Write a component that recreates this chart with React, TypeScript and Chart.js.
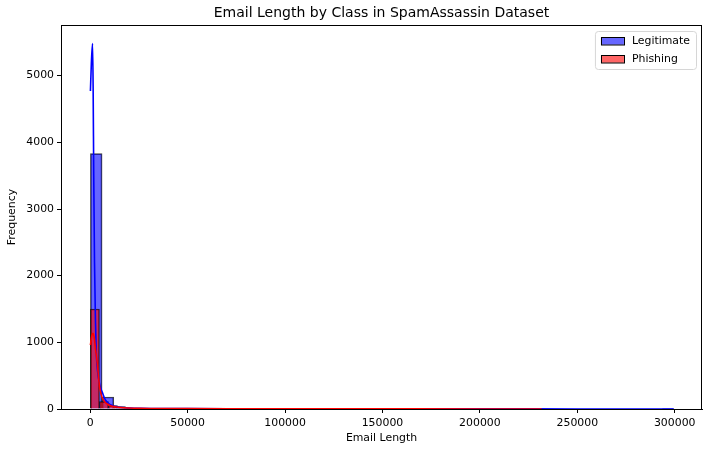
import React, { useEffect, useRef } from "react";
import { Chart, registerables } from "chart.js";

Chart.register(...registerables);

// ---- data ----
const legitMin = 100;
const legitBinWidth = 5990;
const legitCounts = [
  3830, 180, 35, 12, 6, 4, 2, 2, 1, 1, 1, 1, 0, 1, 1, 0, 0, 0, 0, 0,
  0, 0, 0, 0, 0, 0, 0, 0, 0, 0, 0, 0, 0, 0, 0, 0, 0, 0, 0, 0,
  0, 0, 0, 0, 0, 0, 0, 0, 0, 1,
];
const phishMin = 100;
const phishBinWidth = 4630;
const phishCounts = [
  1500, 110, 50, 20, 10, 6, 4, 3, 2, 2, 1, 1, 1, 0, 0, 0, 1, 1, 0, 1,
  0, 0, 0, 0, 0, 0, 0, 0, 0, 0, 0, 0, 0, 0, 0, 0, 0, 0, 0, 0,
  0, 0, 0, 0, 0, 0, 0, 0, 0, 1,
];
const legitKdeX = [
  100, 600, 1200, 1500, 1800, 2200, 2700, 3100, 3800, 4500, 5200, 6200, 7700, 9500, 11500,
  13700, 17000, 20500, 26000, 35000, 50000, 70000, 90000, 110000, 150000, 200000, 250000, 299500,
];
const legitKdeY = [
  4770, 5200, 5480, 4800, 3500, 2200, 1300, 850, 560, 420, 330, 250, 140, 80, 50,
  35, 22, 15, 10, 7, 5, 4, 4, 3, 2, 1.5, 1, 0.5,
];
const phishKdeX = [
  100, 700, 1400, 2000, 2800, 3600, 4200, 4800, 5500, 6200, 7400, 8700, 10500, 12800,
  16000, 19800, 25000, 35000, 50000, 80000, 100000, 150000, 200000, 231700,
];
const phishKdeY = [
  960, 1080, 1135, 1080, 880, 690, 500, 335, 230, 165, 110, 75, 50, 35,
  22, 15, 10, 7, 5, 4, 3, 2, 1, 0.5,
];
const xTicks = [0, 50000, 100000, 150000, 200000, 250000, 300000];
const yTicks = [0, 1000, 2000, 3000, 4000, 5000];
const seriesNames = ["Legitimate", "Phishing"];
const titleText = "Email Length by Class in SpamAssassin Dataset";
const xLabel = "Email Length";
const yLabel = "Frequency";

const FONT = "'DejaVu Sans', sans-serif";
const legitFill = "rgba(0,0,255,0.6)";
const phishFill = "rgba(255,0,0,0.6)";
const edge = "rgba(0,0,0,0.75)";

const toBars = (min: number, w: number, counts: number[]) =>
  counts.map((c, i) => ({ x: min + w * (i + 0.5), y: c }));
const toLine = (xs: number[], ys: number[]) => xs.map((x, i) => ({ x, y: ys[i] }));

const framePlugin = {
  id: "frameAndLegend",
  afterDatasetsDraw(chart: any) {
    const { ctx, chartArea } = chart;
    const { left, right, top, bottom } = chartArea;
    ctx.save();
    // frame (spines)
    ctx.strokeStyle = "#000";
    ctx.lineWidth = 1;
    ctx.strokeRect(Math.round(left) + 0.5, Math.round(top) + 0.5, Math.round(right - left) - 1, Math.round(bottom - top));
    // legend
    const fs = 10.9;
    ctx.font = `${fs}px ${FONT}`;
    const widths = seriesNames.map((n) => ctx.measureText(n).width);
    const handleW = 23;
    const handleH = 7.5;
    const pad = 6;
    const gap = 8;
    const rowH = 18;
    const boxW = pad + handleW + gap + Math.max(...widths) + pad;
    const boxH = rowH * seriesNames.length + 2;
    const bx = right - 6 - boxW;
    const by = top + 6;
    ctx.fillStyle = "rgba(255,255,255,0.8)";
    ctx.strokeStyle = "#d6d6d6";
    ctx.lineWidth = 1;
    ctx.beginPath();
    (ctx as any).roundRect(bx + 0.5, by + 0.5, boxW, boxH, 3);
    ctx.fill();
    ctx.stroke();
    const fills = [legitFill, phishFill];
    seriesNames.forEach((n, i) => {
      const cy = by + 1 + rowH * (i + 0.5);
      const hx = bx + pad;
      ctx.fillStyle = fills[i];
      ctx.fillRect(hx, cy - handleH / 2, handleW, handleH);
      ctx.strokeStyle = "#000";
      ctx.lineWidth = 1;
      ctx.strokeRect(Math.round(hx) + 0.5, Math.round(cy - handleH / 2) + 0.5, handleW, handleH);
      ctx.fillStyle = "#000";
      ctx.textBaseline = "middle";
      ctx.textAlign = "left";
      ctx.fillText(n, hx + handleW + gap, cy);
    });
    ctx.restore();
  },
};

export default function App() {
  const ref = useRef<HTMLCanvasElement | null>(null);
  useEffect(() => {
    document.body.style.margin = "0";
    if (!ref.current) return;
    const xMin = -15000;
    const xMax = 314000;
    const chart = new Chart(ref.current, {
      type: "bar",
      data: {
        datasets: [
          {
            type: "line",
            label: "Phishing KDE",
            data: toLine(phishKdeX, phishKdeY),
            borderColor: "red",
            borderWidth: 1.6,
            pointRadius: 0,
            cubicInterpolationMode: "monotone",
            xAxisID: "x",
            order: 0,
          } as any,
          {
            type: "line",
            label: "Legitimate KDE",
            data: toLine(legitKdeX, legitKdeY),
            borderColor: "blue",
            borderWidth: 1.6,
            pointRadius: 0,
            cubicInterpolationMode: "monotone",
            xAxisID: "x",
            order: 1,
          } as any,
          {
            type: "bar",
            label: seriesNames[1],
            data: toBars(phishMin, phishBinWidth, phishCounts),
            backgroundColor: phishFill,
            borderColor: edge,
            borderWidth: 1,
            barPercentage: 1,
            categoryPercentage: 1,
            grouped: false,
            xAxisID: "x2",
            order: 2,
          } as any,
          {
            type: "bar",
            label: seriesNames[0],
            data: toBars(legitMin, legitBinWidth, legitCounts),
            backgroundColor: legitFill,
            borderColor: edge,
            borderWidth: 1,
            barPercentage: 1,
            categoryPercentage: 1,
            grouped: false,
            xAxisID: "x",
            order: 3,
          } as any,
        ],
      },
      options: {
        animation: false,
        responsive: true,
        maintainAspectRatio: false,
        devicePixelRatio: 1,
        layout: { padding: { left: 0, right: 8, top: 0, bottom: 0 } },
        plugins: {
          legend: { display: false },
          tooltip: { enabled: false },
          title: {
            display: true,
            text: titleText,
            fullSize: false,
            color: "#000",
            font: { family: FONT, size: 14, weight: "normal" as any },
            padding: { top: 5, bottom: 3.2 },
          },
        },
        scales: {
          x: {
            type: "linear",
            position: "bottom",
            offset: false,
            min: xMin,
            max: xMax,
            afterBuildTicks: (s: any) => {
              s.ticks = xTicks.map((v) => ({ value: v }));
            },
            afterFit: (s: any) => {
              s.height = 40;
            },
            grid: { offset: false, drawOnChartArea: false, drawTicks: true, tickLength: 4, color: "#000", lineWidth: 1 },
            border: { display: true, color: "#000", width: 1 },
            ticks: {
              color: "#000",
              font: { family: FONT, size: 10.9 },
              padding: 4,
              maxRotation: 0,
              autoSkip: false,
              callback: (v: any) => String(v),
            },
            title: {
              display: true,
              text: xLabel,
              color: "#000",
              font: { family: FONT, size: 10.9 },
              padding: { top: 0, bottom: 4 },
            },
          },
          x2: {
            type: "linear",
            display: false,
            offset: false,
            grid: { offset: false },
            min: xMin,
            max: xMax,
            afterBuildTicks: (s: any) => {
              s.ticks = xTicks.map((v) => ({ value: v }));
            },
          },
          y: {
            type: "linear",
            min: 0,
            max: 5760,
            afterBuildTicks: (s: any) => {
              s.ticks = yTicks.map((v) => ({ value: v }));
            },
            afterFit: (s: any) => {
              s.width = 61;
            },
            grid: { drawOnChartArea: false, drawTicks: true, tickLength: 4, color: "#000", lineWidth: 1 },
            border: { display: true, color: "#000", width: 1 },
            ticks: {
              color: "#000",
              font: { family: FONT, size: 10.9 },
              padding: 3,
              callback: (v: any) => String(v),
            },
            title: {
              display: true,
              text: yLabel,
              color: "#000",
              font: { family: FONT, size: 10.9 },
              padding: { top: 6, bottom: 0 },
            },
          },
        },
      },
      plugins: [framePlugin],
    });
    return () => chart.destroy();
  }, []);
  return (
    <div style={{ position: "absolute", left: 0, top: 0, width: 710, height: 449 }}>
      <canvas ref={ref} />
    </div>
  );
}
